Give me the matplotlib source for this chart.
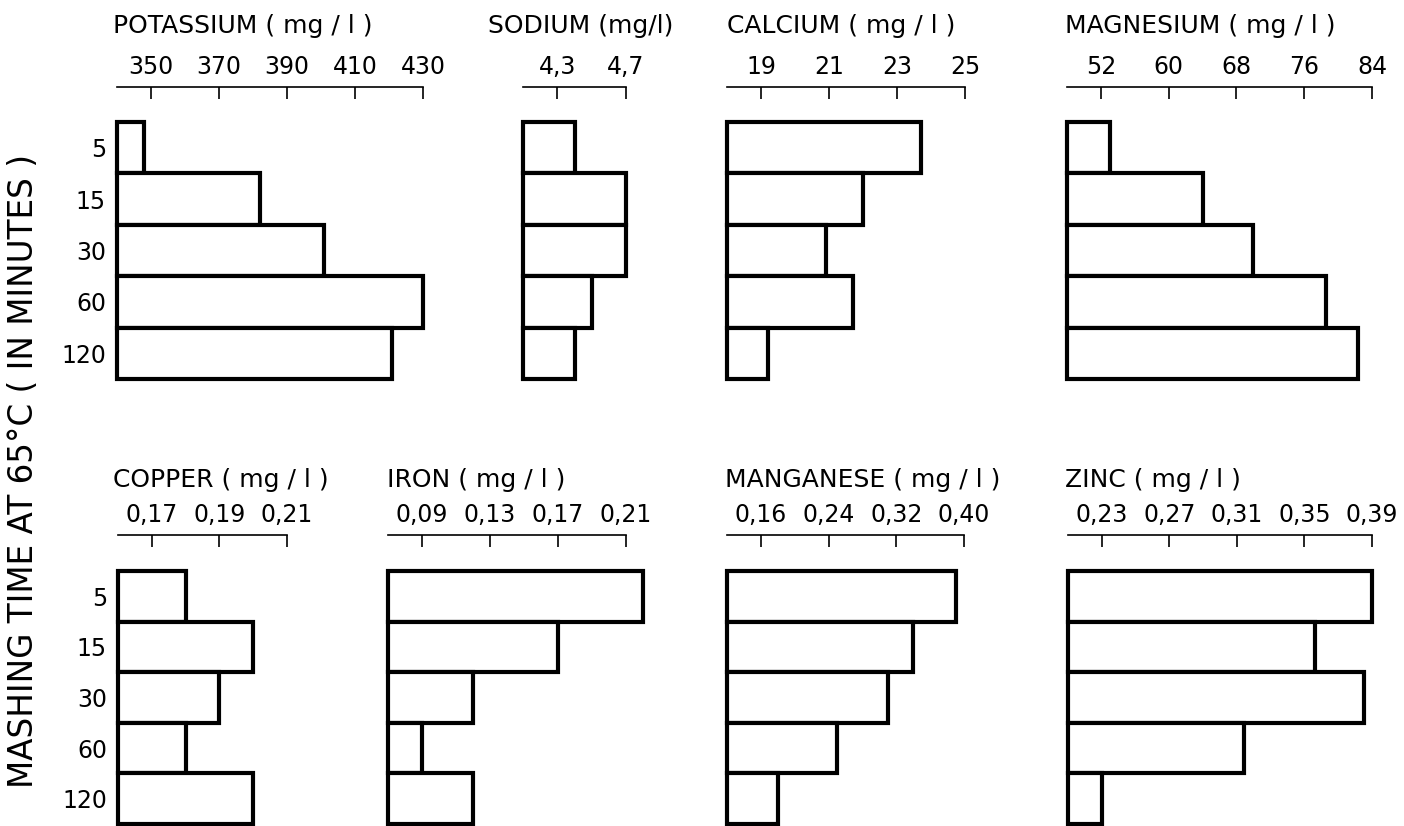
import numpy as np
import matplotlib.pyplot as plt

plt.rcParams['font.family'] = ['DejaVu Sans']

times = ["5", "15", "30", "60", "120"]

potassium = [348, 382, 401, 430, 421]
sodium = [4.4, 4.7, 4.7, 4.5, 4.4]
calcium = [23.7, 22.0, 20.9, 21.7, 19.2]
magnesium = [53.1, 64.1, 70.0, 78.6, 82.3]
copper = [0.18, 0.20, 0.19, 0.18, 0.20]
iron = [0.22, 0.17, 0.12, 0.09, 0.12]
manganese = [0.39, 0.34, 0.31, 0.25, 0.18]
zinc = [0.39, 0.356, 0.385, 0.314, 0.23]

titles = ["POTASSIUM ( mg / l )", "SODIUM (mg/l)", "CALCIUM ( mg / l )", "MAGNESIUM ( mg / l )",
          "COPPER ( mg / l )", "IRON ( mg / l )", "MANGANESE ( mg / l )", "ZINC ( mg / l )"]
series = [potassium, sodium, calcium, magnesium, copper, iron, manganese, zinc]
xlims = [(340, 430), (4.1, 4.7), (18, 25), (48, 84),
         (0.16, 0.21), (0.07, 0.21), (0.12, 0.40), (0.21, 0.39)]
ticks = [[350, 370, 390, 410, 430], [4.3, 4.7], [19, 21, 23, 25], [52, 60, 68, 76, 84],
         [0.17, 0.19, 0.21], [0.09, 0.13, 0.17, 0.21], [0.16, 0.24, 0.32, 0.40],
         [0.23, 0.27, 0.31, 0.35, 0.39]]
tick_labels = [["350", "370", "390", "410", "430"], ["4,3", "4,7"], ["19", "21", "23", "25"],
               ["52", "60", "68", "76", "84"], ["0,17", "0,19", "0,21"],
               ["0,09", "0,13", "0,17", "0,21"], ["0,16", "0,24", "0,32", "0,40"],
               ["0,23", "0,27", "0,31", "0,35", "0,39"]]

# panel placement in pixels: (left, right) of the axis line, title x
W, H = 1404, 826
cols = [(117, 423, 113), (523, 626, 488), (727, 965, 727), (1067, 1372, 1065),
        (118, 287, 113), (388, 626, 387), (727, 964, 725), (1068, 1372, 1065)]
rows = [(87, 379, 0.68, 33), (535, 824, 0.71, 487)]  # axis top, bars bottom, headroom, title baseline

fig = plt.figure(figsize=(W / 100, H / 100), dpi=100)

for i in range(8):
    x0, x1, tx = cols[i]
    y0, y1, head, ty = rows[i // 4]
    ax = fig.add_axes([x0 / W, 1 - y1 / H, (x1 - x0) / W, (y1 - y0) / H])
    lo, hi = xlims[i]
    pos = np.arange(len(times))
    ax.barh(pos, np.array(series[i]) - lo, left=lo, height=1.0, color='white',
            edgecolor='black', linewidth=3, clip_on=False)
    ax.set_xlim(lo, hi)
    ax.set_ylim(len(times) - 0.5, -0.5 - head)
    for s in ['left', 'right', 'bottom']:
        ax.spines[s].set_visible(False)
    ax.spines['top'].set_linewidth(1.2)
    ax.xaxis.tick_top()
    ax.set_xticks(ticks[i])
    ax.set_xticklabels(tick_labels[i])
    ax.tick_params(axis='x', direction='in', length=8.5, width=1.2, pad=6, labelsize=17)
    if i % 4 == 0:
        ax.set_yticks(pos)
        ax.set_yticklabels(times)
        ax.tick_params(axis='y', length=0, pad=8, labelsize=17)
    else:
        ax.set_yticks([])
    ax.patch.set_visible(False)
    fig.text(tx / W, 1 - ty / H, titles[i], ha='left', va='baseline', fontsize=18)

fig.text(24 / W, 1 - 471 / H, "MASHING TIME AT 65°C ( IN MINUTES )", rotation=90,
         ha='center', va='center', fontsize=23.5)

fig.savefig("out.png", dpi=100, facecolor='white')
